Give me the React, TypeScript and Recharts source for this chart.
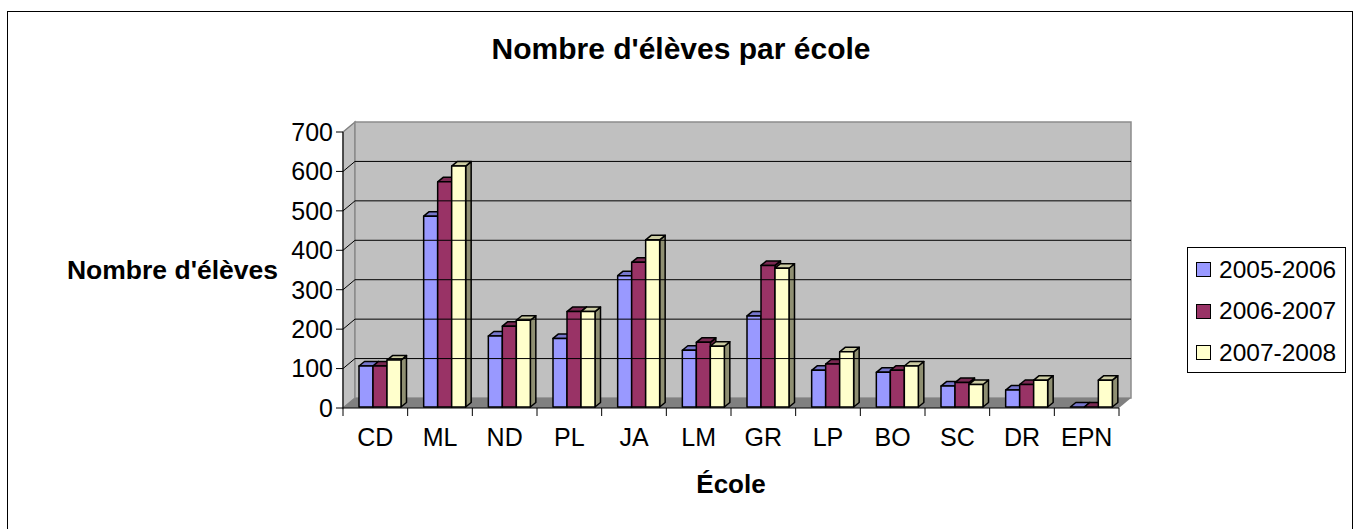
import React from "react";
import { Bar, BarChart, Label, Legend, ReferenceArea, ReferenceLine, XAxis, YAxis } from "recharts";

const ecoles = ["CD", "ML", "ND", "PL", "JA", "LM", "GR", "LP", "BO", "SC", "DR", "EPN"];
const annee0506 = [104, 484, 180, 174, 333, 144, 231, 93, 88, 53, 43, 0];
const annee0607 = [104, 571, 205, 242, 367, 164, 359, 109, 93, 62, 57, 0];
const annee0708 = [119, 611, 220, 242, 424, 154, 352, 140, 104, 57, 68, 68];
const yTicks = [0, 100, 200, 300, 400, 500, 600, 700];

const series = [
  { key: "a0506", name: "2005-2006", fill: "#9999FF", top: "#7777CC", side: "#5C5C99" },
  { key: "a0607", name: "2006-2007", fill: "#993366", top: "#7A2952", side: "#5C1F3D" },
  { key: "a0708", name: "2007-2008", fill: "#FFFFCC", top: "#CCCCA3", side: "#8F8F72" }
];

const data = ecoles.map((ecole, i) => ({
  ecole,
  a0506: annee0506[i],
  a0607: annee0607[i],
  a0708: annee0708[i]
}));

const FONT = "'Liberation Sans', Arial, sans-serif";
// profondeur des murs et des barres (effet 3D Excel)
const WALL_DX = 12;
const WALL_DY = 10;
const BAR_DX = 5.5;
const BAR_DY = 4.5;

function Walls(props: any) {
  const { x, y, width, height } = props;
  const b = y + height;
  return (
    <g>
      <polygon
        points={`${x},${b} ${x},${y} ${x + WALL_DX},${y - WALL_DY} ${x + WALL_DX},${b - WALL_DY}`}
        fill="#C0C0C0"
        stroke="#808080"
        strokeWidth={1.5}
      />
      <rect x={x + WALL_DX} y={y - WALL_DY} width={width} height={height} fill="#C0C0C0" stroke="#8C8C8C" strokeWidth={1.5} />
      <polygon
        points={`${x},${b} ${x + width},${b} ${x + width + WALL_DX},${b - WALL_DY} ${x + WALL_DX},${b - WALL_DY}`}
        fill="#808080"
      />
    </g>
  );
}

// ligne de grille : diagonale sur le mur gauche puis horizontale sur le mur du fond
function GridLine(props: any) {
  const { x1, y1, x2 } = props;
  return (
    <polyline
      points={`${x1},${y1} ${x1 + WALL_DX},${y1 - WALL_DY} ${x2 + WALL_DX},${y1 - WALL_DY}`}
      fill="none"
      stroke="#000"
      strokeWidth={1}
    />
  );
}

function makeBar(top: string, side: string) {
  return (props: any) => {
    const { x, y, width, height, fill } = props;
    const fx = x + 5;
    const fy = y - 1;
    const h = Math.max(height, 0);
    return (
      <g stroke="#000" strokeWidth={1.5} strokeLinejoin="round">
        <polygon
          points={`${fx + width},${fy} ${fx + width + BAR_DX},${fy - BAR_DY} ${fx + width + BAR_DX},${fy + h - BAR_DY} ${fx + width},${fy + h}`}
          fill={side}
        />
        <polygon
          points={`${fx},${fy} ${fx + BAR_DX},${fy - BAR_DY} ${fx + width + BAR_DX},${fy - BAR_DY} ${fx + width},${fy}`}
          fill={top}
        />
        {h > 0 && <rect x={fx} y={fy} width={width} height={h} fill={fill} />}
      </g>
    );
  };
}

function CategoryTick(props: any) {
  const { x, y, payload, index } = props;
  const half = payload.offset || 32.3;
  const axisY = y - 20;
  return (
    <g>
      <line x1={x - half} y1={axisY} x2={x - half} y2={axisY + 8} stroke="#000" />
      {index === ecoles.length - 1 && <line x1={x + half} y1={axisY} x2={x + half} y2={axisY + 8} stroke="#000" />}
      <text x={x} y={y} dy="0.71em" textAnchor="middle" fontSize={25} fontFamily={FONT} fill="#000">
        {payload.value}
      </text>
    </g>
  );
}

function LegendBox(props: any) {
  const payload = props.payload || [];
  return (
    <div
      style={{
        border: "1px solid #000",
        width: 159,
        height: 126,
        boxSizing: "border-box",
        paddingTop: 1,
        background: "#fff",
        fontFamily: FONT
      }}
    >
      {payload.map((entry: any) => (
        <div key={entry.value} style={{ display: "flex", alignItems: "center", height: 41.5, paddingLeft: 8 }}>
          <span
            style={{
              display: "inline-block",
              width: 13,
              height: 13,
              border: "1.5px solid #000",
              background: entry.color,
              marginRight: 8
            }}
          />
          <span style={{ fontSize: 24.5, color: "#000", lineHeight: 1 }}>{entry.value}</span>
        </div>
      ))}
    </div>
  );
}

export default function App() {
  return (
    <div style={{ position: "absolute", left: 0, top: 0, width: 1353, height: 529, overflow: "hidden", background: "#fff" }}>
      <div
        style={{
          position: "absolute",
          left: 7,
          top: 11,
          width: 1346,
          height: 530,
          border: "1px solid #000",
          boxSizing: "border-box"
        }}
      />
      <div style={{ position: "absolute", left: 0, top: 0 }}>
        <BarChart
          width={1353}
          height={529}
          data={data}
          margin={{ top: 132, right: 234, bottom: 0, left: 0 }}
          barSize={14}
          barGap={0}
        >
          <ReferenceArea y1={0} y2={700} shape={Walls} ifOverflow="visible" />
          {yTicks.slice(1, -1).map((v) => (
            <ReferenceLine key={v} y={v} shape={GridLine} ifOverflow="visible" />
          ))}
          <XAxis
            dataKey="ecole"
            height={121}
            axisLine={{ stroke: "#000", strokeWidth: 1 }}
            tickLine={false}
            tickSize={8}
            tickMargin={12}
            tick={CategoryTick}
            interval={0}
          >
            <Label
              content={(p: any) => (
                <text
                  x={p.viewBox.x + p.viewBox.width / 2}
                  y={p.viewBox.y + 85}
                  textAnchor="middle"
                  fontSize={26}
                  fontWeight="bold"
                  fontFamily={FONT}
                  fill="#000"
                >
                  École
                </text>
              )}
            />
          </XAxis>
          <YAxis
            width={343}
            domain={[0, 700]}
            ticks={yTicks}
            interval={0}
            axisLine={{ stroke: "#000", strokeWidth: 1 }}
            tickLine={{ stroke: "#000" }}
            tickSize={7}
            tickMargin={3}
            tick={{ fontSize: 25, fill: "#000", fontFamily: FONT }}
          >
            <Label
              content={(p: any) => (
                <text
                  x={172.5}
                  y={p.viewBox.y + p.viewBox.height / 2}
                  dy="0.33em"
                  textAnchor="middle"
                  fontSize={26.5}
                  fontWeight="bold"
                  fontFamily={FONT}
                  fill="#000"
                >
                  Nombre d'élèves
                </text>
              )}
            />
          </YAxis>
          <Legend
            layout="vertical"
            align="center"
            verticalAlign="middle"
            content={LegendBox}
            wrapperStyle={{ left: 1187, top: 247, width: 159, height: 126 }}
          />
          {series.map((s) => (
            <Bar
              key={s.key}
              dataKey={s.key}
              name={s.name}
              fill={s.fill}
              shape={makeBar(s.top, s.side)}
              isAnimationActive={false}
            />
          ))}
        </BarChart>
      </div>
      <svg width={1353} height={529} style={{ position: "absolute", left: 0, top: 0, pointerEvents: "none" }}>
        <text x={681} y={59} textAnchor="middle" fontSize={30} fontWeight="bold" fontFamily={FONT} fill="#000">
          Nombre d'élèves par école
        </text>
      </svg>
    </div>
  );
}
